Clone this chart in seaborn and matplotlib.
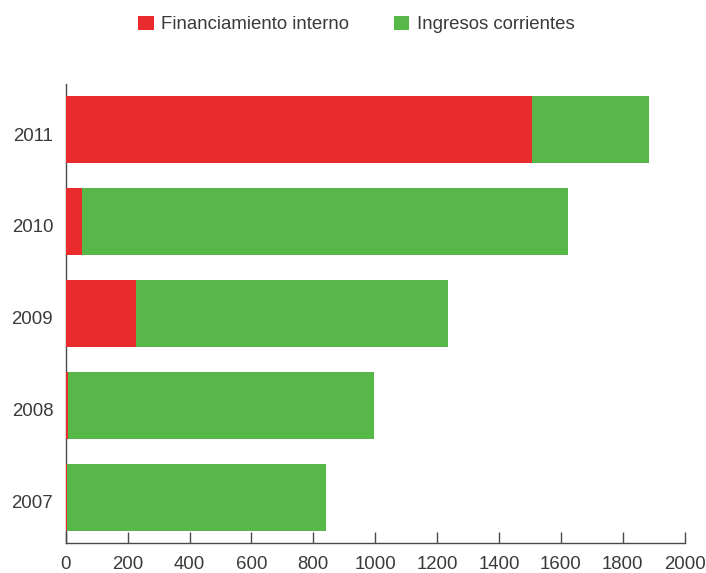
import matplotlib
matplotlib.use("Agg")
import matplotlib.pyplot as plt
import matplotlib.transforms as mtransforms
from matplotlib.patches import Patch
import pandas as pd
import seaborn as sns

# Data: yearly funding split (stacked horizontal bars)
years = ["2011", "2010", "2009", "2008", "2007"]
financiamiento_interno = [1507, 53, 227, 8, 4]
ingresos_corrientes = [378, 1570, 1009, 988, 837]
x_ticks = [0, 200, 400, 600, 800, 1000, 1200, 1400, 1600, 1800, 2000]

RED = "#E92B2E"
GREEN = "#57B749"
TEXT = "#3a3a3a"
AXIS = "#4a4a4a"
FS = 13.4

sns.set_theme(style="white")
plt.rcParams["font.family"] = ["Liberation Sans", "DejaVu Sans"]

df = pd.DataFrame({
    "year": years,
    "interno": financiamiento_interno,
    "corrientes": ingresos_corrientes,
})
df["total"] = df["interno"] + df["corrientes"]

fig = plt.figure(figsize=(7.06, 5.73), dpi=100)
ax = fig.add_axes([0.0931, 0.0524, 0.8768, 0.801])

# Total length in green, internal financing in red over it
sns.barplot(data=df, x="total", y="year", order=years, orient="h",
            color=GREEN, saturation=1, width=0.73, linewidth=0, ax=ax, zorder=3)
sns.barplot(data=df, x="interno", y="year", order=years, orient="h",
            color=RED, saturation=1, width=0.73, linewidth=0, ax=ax, zorder=3)

ax.set_xlim(0, 2000)
ax.set_ylim(4.5, -0.5)
ax.set_xticks(x_ticks)
ax.set_xticklabels([str(t) for t in x_ticks])
ax.set_xlabel("")
ax.set_ylabel("")

for side in ("top", "right"):
    ax.spines[side].set_visible(False)
for side in ("left", "bottom"):
    ax.spines[side].set_visible(True)
    ax.spines[side].set_color(AXIS)
    ax.spines[side].set_linewidth(1.0)
    ax.spines[side].set_zorder(2)

ax.tick_params(axis="x", direction="in", length=8, width=1.0, color=AXIS,
               pad=9.5, labelsize=FS, labelcolor=TEXT)
ax.tick_params(axis="y", length=0, pad=9, labelsize=FS, labelcolor=TEXT)
ax.tick_params(axis="x", bottom=True)

# year labels sit slightly below the bar centres
shift = mtransforms.ScaledTranslation(0, -3 / 72, fig.dpi_scale_trans)
for lab in ax.get_yticklabels():
    lab.set_transform(lab.get_transform() + shift)

handles = [Patch(facecolor=RED, edgecolor="none", label="Financiamiento interno"),
           Patch(facecolor=GREEN, edgecolor="none", label="Ingresos corrientes")]
fig.legend(handles=handles, loc="center", bbox_to_anchor=(0.505, 0.957),
           ncol=2, frameon=False, fontsize=FS, labelcolor=TEXT,
           handlelength=0.82, handleheight=0.82, handletextpad=0.42,
           columnspacing=2.4)

fig.savefig("out.png", dpi=100)
